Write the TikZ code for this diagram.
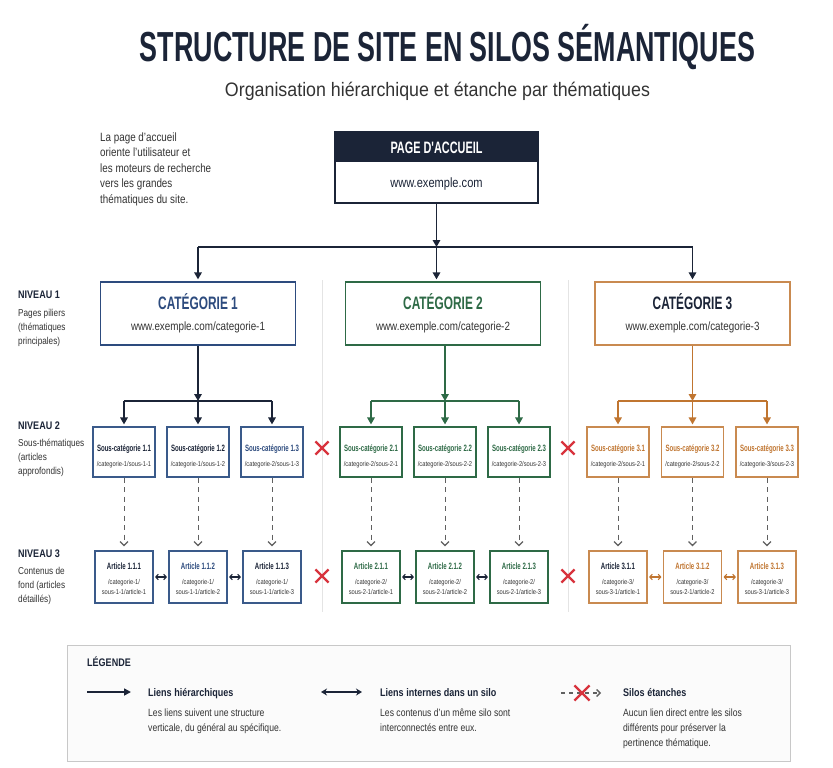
\documentclass[tikz,border=0pt]{standalone}
\usepackage{fontspec}
\usepackage{graphicx}
\setmainfont[FakeStretch=0.82]{Liberation Sans}
\newfontfamily\headf[FakeStretch=0.66]{Liberation Sans}
\usetikzlibrary{arrows.meta,shapes.misc,calc}
\definecolor{navy}{HTML}{1B2437}
\definecolor{cblue}{HTML}{2D4B7E}
\definecolor{sblue}{HTML}{3A5A8A}
\definecolor{cgreen}{HTML}{2E6A46}
\definecolor{corange}{HTML}{C98A50}
\definecolor{otext}{HTML}{C07530}
\definecolor{txt}{HTML}{333333}
\definecolor{dgray}{HTML}{606060}
\definecolor{xred}{HTML}{D8333D}
\definecolor{sepc}{HTML}{E4E4E4}
\definecolor{lgray}{HTML}{C8C8C8}
\definecolor{lfill}{HTML}{FBFBFB}
\tikzset{
 catbox/.style={draw=#1, line width=1.3pt, minimum width=195pt, minimum height=63pt, inner sep=0, fill=white},
 subbox/.style={draw=#1, line width=1.1pt, minimum width=62pt, minimum height=50pt, inner sep=0, fill=white},
 artbox/.style={draw=#1, line width=1.1pt, minimum width=58pt, minimum height=52pt, inner sep=0, fill=white},
 ttl/.style={anchor=base, inner sep=0, font=\headf\bfseries\fontsize{9.2}{10}\selectfont, text=#1},
 urltxt/.style={anchor=base, inner sep=0, font=\fontsize{7}{8}\selectfont, text=#1},
 harrow/.style={draw=#1, line width=1.6pt, -{Triangle[length=7pt,width=7.5pt]}, shorten >=2pt},
 hline/.style={draw=#1, line width=1.6pt},
 dasharrow/.style={draw=#1, line width=0.9pt, dash pattern=on 5pt off 4.5pt, -{Straight Barb[length=4pt,width=8pt,line width=1.3pt]}, shorten >=4pt},
 dblarrow/.style={draw=#1, line width=1.1pt, {Straight Barb[length=2.5pt,width=5.5pt]}-{Straight Barb[length=2.5pt,width=5.5pt]}, shorten >=1.5pt, shorten <=1.5pt},
 xmark/.style={cross out, draw=xred, line width=2.2pt, minimum size=#1, inner sep=0},
 sepline/.style={draw=#1, line width=0.8pt},
 lvl/.style={anchor=base west, inner sep=0, font=\bfseries\fontsize{11}{11}\selectfont, text=#1},
 lvltxt/.style={anchor=base west, inner sep=0, font=\fontsize{10}{10}\selectfont, text=#1},
 notetxt/.style={anchor=base west, inner sep=0, font=\fontsize{12}{12}\selectfont, text=#1},
 legtitle/.style={anchor=base west, inner sep=0, font=\bfseries\fontsize{11}{11}\selectfont, text=#1},
 legtxt/.style={anchor=base west, inner sep=0, font=\fontsize{10.5}{10.5}\selectfont, text=#1},
}
\newcommand\subbx[6]{%
 \node[subbox=#3] (#1) at (#2,452) {};
 \node[ttl=#4] (#1t) at (#2,451.5) {#5};
 \node[urltxt=txt] (#1u) at (#2,466) {#6};
}
\newcommand\artbx[7]{%
 \node[artbox=#3] (#1) at (#2,577) {};
 \node[ttl=#4] (#1t) at (#2,569.5) {#5};
 \node[urltxt=txt] (#1u) at (#2,584.5) {#6};
 \node[urltxt=txt] (#1v) at (#2,594) {#7};
}
\begin{document}
\begin{tikzpicture}[x=1pt,y=-1pt]
\useasboundingbox[fill=white] (0,0) rectangle (833,768);

% title
\node[anchor=base, inner sep=0, text=navy] (title) at (447.5,62)
  {\resizebox{615pt}{\height}{\fontsize{42}{42}\selectfont\bfseries STRUCTURE DE SITE EN SILOS SÉMANTIQUES}};
\node[anchor=base, inner sep=0, text=txt] (subtitle) at (437.5,96)
  {\resizebox{425pt}{\height}{\fontsize{19.5}{19.5}\selectfont Organisation hiérarchique et étanche par thématiques}};

% note
\node[notetxt=txt] (n1) at (100,141) {La page d'accueil};
\node[notetxt=txt] (n2) at (100,156.5) {oriente l'utilisateur et};
\node[notetxt=txt] (n3) at (100,172) {les moteurs de recherche};
\node[notetxt=txt] (n4) at (100,187.5) {vers les grandes};
\node[notetxt=txt] (n5) at (100,203) {thématiques du site.};

% home
\node[draw=navy, line width=1.2pt, minimum width=203pt, minimum height=71pt, inner sep=0, fill=white] (home) at (436.5,167.5) {};
\fill[navy] (home.north west) rectangle ($(home.north east)+(0,31)$);
\node[anchor=base, inner sep=0, text=white, font=\headf\bfseries\fontsize{16.5}{16.5}\selectfont] (homet) at (436.5,153) {PAGE D'ACCUEIL};
\node[anchor=base, inner sep=0, text=navy, font=\fontsize{13.5}{13.5}\selectfont] (homeu) at (436.5,187.5) {www.exemple.com};

% separators
\draw[sepline=sepc] (322,280) -- (322,612);
\draw[sepline=sepc] (568,280) -- (568,612);

% categories
\node[catbox=cblue] (cat1) at (198,313.5) {};
\node[catbox=cgreen] (cat2) at (443,313.5) {};
\node[catbox=corange] (cat3) at (692.5,313.5) {};
\node[anchor=base, inner sep=0, text=cblue, font=\headf\bfseries\fontsize{18}{18}\selectfont] (cat1t) at (198,309.5) {CATÉGORIE 1};
\node[anchor=base, inner sep=0, text=cgreen, font=\headf\bfseries\fontsize{18}{18}\selectfont] (cat2t) at (443,309.5) {CATÉGORIE 2};
\node[anchor=base, inner sep=0, text=navy, font=\headf\bfseries\fontsize{18}{18}\selectfont] (cat3t) at (692.5,309.5) {CATÉGORIE 3};
\node[anchor=base, inner sep=0, text=txt, font=\fontsize{12}{12}\selectfont] (cat1u) at (198,330) {www.exemple.com/categorie-1};
\node[anchor=base, inner sep=0, text=txt, font=\fontsize{12}{12}\selectfont] (cat2u) at (443,330) {www.exemple.com/categorie-2};
\node[anchor=base, inner sep=0, text=txt, font=\fontsize{12}{12}\selectfont] (cat3u) at (692.5,330) {www.exemple.com/categorie-3};

% home connectors
\coordinate (jn) at (436.5,247);
\coordinate (jl) at (198,247);
\coordinate (jr) at (692.5,247);
\draw[harrow=navy, shorten >=0pt] (home.south) -- (jn);
\draw[hline=navy] (jl) -- (jr);
\draw[harrow=navy] (jl) -- (cat1.north);
\draw[harrow=navy] (jn) -- (jn |- cat2.north);
\draw[harrow=navy] (jr) -- (cat3.north);

% level labels
\node[lvl=navy] (lv1) at (18,298) {NIVEAU 1};
\node[lvltxt=txt] (lv1a) at (18,316) {Pages piliers};
\node[lvltxt=txt] (lv1b) at (18,330) {(thématiques};
\node[lvltxt=txt] (lv1c) at (18,344) {principales)};
\node[lvl=navy] (lv2) at (18,429) {NIVEAU 2};
\node[lvltxt=txt] (lv2a) at (18,446) {Sous-thématiques};
\node[lvltxt=txt] (lv2b) at (18,460) {(articles};
\node[lvltxt=txt] (lv2c) at (18,474) {approfondis)};
\node[lvl=navy] (lv3) at (18,557) {NIVEAU 3};
\node[lvltxt=txt] (lv3a) at (18,574) {Contenus de};
\node[lvltxt=txt] (lv3b) at (18,588) {fond (articles};
\node[lvltxt=txt] (lv3c) at (18,602) {détaillés)};

% silo 1
\subbx{s11}{124}{sblue}{navy}{Sous-catégorie 1.1}{/categorie-1/sous-1-1}
\subbx{s12}{198}{sblue}{navy}{Sous-catégorie 1.2}{/categorie-1/sous-1-2}
\subbx{s13}{272}{sblue}{cblue}{Sous-catégorie 1.3}{/categorie-2/sous-1-3}
\artbx{a11}{124}{sblue}{navy}{Article 1.1.1}{/categorie-1/}{sous-1-1/article-1}
\artbx{a12}{198}{sblue}{cblue}{Article 1.1.2}{/categorie-1/}{sous-1-1/article-2}
\artbx{a13}{272}{sblue}{navy}{Article 1.1.3}{/categorie-1/}{sous-1-1/article-3}
\coordinate (j1) at (198,401);
\draw[harrow=navy, shorten >=0pt] (cat1.south) -- (j1);
\draw[hline=navy] (s11.north |- j1) -- (s13.north |- j1);
\draw[harrow=navy] (s11.north |- j1) -- (s11.north);
\draw[harrow=navy] (j1) -- (s12.north);
\draw[harrow=navy] (s13.north |- j1) -- (s13.north);

% silo 2
\subbx{s21}{371}{cgreen}{cgreen}{Sous-catégorie 2.1}{/categorie-2/sous-2-1}
\subbx{s22}{445}{cgreen}{cgreen}{Sous-catégorie 2.2}{/categorie-2/sous-2-2}
\subbx{s23}{519}{cgreen}{cgreen}{Sous-catégorie 2.3}{/categorie-2/sous-2-3}
\artbx{a21}{371}{cgreen}{cgreen}{Article 2.1.1}{/categorie-2/}{sous-2-1/article-1}
\artbx{a22}{445}{cgreen}{cgreen}{Article 2.1.2}{/categorie-2/}{sous-2-1/article-2}
\artbx{a23}{519}{cgreen}{cgreen}{Article 2.1.3}{/categorie-2/}{sous-2-1/article-3}
\coordinate (j2) at (445,401);
\draw[harrow=cgreen, shorten >=0pt] (s22.north |- cat2.south) -- (j2);
\draw[hline=cgreen] (s21.north |- j2) -- (s23.north |- j2);
\draw[harrow=cgreen] (s21.north |- j2) -- (s21.north);
\draw[harrow=cgreen] (j2) -- (s22.north);
\draw[harrow=cgreen] (s23.north |- j2) -- (s23.north);

% silo 3
\subbx{s31}{618}{corange}{otext}{Sous-catégorie 3.1}{/categorie-2/sous-2-1}
\subbx{s32}{692.5}{corange}{otext}{Sous-catégorie 3.2}{/categorie-2/sous-2-2}
\subbx{s33}{767}{corange}{otext}{Sous-catégorie 3.3}{/categorie-3/sous-2-3}
\artbx{a31}{618}{corange}{navy}{Article 3.1.1}{/categorie-3/}{sous-3-1/article-1}
\artbx{a32}{692.5}{corange}{otext}{Article 3.1.2}{/categorie-3/}{sous-2-1/article-2}
\artbx{a33}{767}{corange}{otext}{Article 3.1.3}{/categorie-3/}{sous-3-1/article-3}
\coordinate (j3) at (692.5,401);
\draw[harrow=otext, shorten >=0pt] (cat3.south) -- (j3);
\draw[hline=otext] (s31.north |- j3) -- (s33.north |- j3);
\draw[harrow=otext] (s31.north |- j3) -- (s31.north);
\draw[harrow=otext] (j3) -- (s32.north);
\draw[harrow=otext] (s33.north |- j3) -- (s33.north);

% dashed links sub -> article
\foreach \s in {11,12,13,21,22,23,31,32,33}{
  \draw[dasharrow=dgray] (s\s.south) -- (a\s.north);
}
% internal links
\draw[dblarrow=navy] (a11.east) -- (a12.west);
\draw[dblarrow=navy] (a12.east) -- (a13.west);
\draw[dblarrow=navy] (a21.east) -- (a22.west);
\draw[dblarrow=navy] (a22.east) -- (a23.west);
\draw[dblarrow=otext] (a31.east) -- (a32.west);
\draw[dblarrow=otext] (a32.east) -- (a33.west);

% crosses
\node[xmark=11pt] (x1) at (322,448) {};
\node[xmark=11pt] (x2) at (322,576) {};
\node[xmark=11pt] (x3) at (568,448) {};
\node[xmark=11pt] (x4) at (568,576) {};

% legend
\node[draw=lgray, fill=lfill, line width=1pt, minimum width=723pt, minimum height=116pt, inner sep=0] (leg) at (428.5,703) {};
\node[legtitle=navy] (legt) at (87,666) {LÉGENDE};
\coordinate (l1a) at (87,692);
\coordinate (l1b) at (131,692);
\draw[navy, line width=1.6pt, -{Triangle[length=7pt,width=7pt]}] (l1a) -- (l1b);
\node[legtitle=navy] (lt1) at (148,696) {Liens hiérarchiques};
\node[legtxt=txt] (ld1a) at (148,716) {Les liens suivent une structure};
\node[legtxt=txt] (ld1b) at (148,731) {verticale, du général au spécifique.};
\coordinate (l2a) at (321,692);
\coordinate (l2b) at (362,692);
\draw[navy, line width=1.6pt, {Stealth[length=6pt,width=7pt]}-{Stealth[length=6pt,width=7pt]}] (l2a) -- (l2b);
\node[legtitle=navy] (lt2) at (380,696) {Liens internes dans un silo};
\node[legtxt=txt] (ld2a) at (380,716) {Les contenus d'un même silo sont};
\node[legtxt=txt] (ld2b) at (380,731) {interconnectés entre eux.};
\coordinate (l3a) at (561,693);
\coordinate (l3b) at (601,693);
\draw[dgray, line width=1.3pt, dash pattern=on 4pt off 4pt, -{Straight Barb[length=3.5pt,width=7pt]}] (l3a) -- (l3b);
\node[xmark=13pt] (lx) at (582,693) {};
\node[legtitle=navy] (lt3) at (623,696) {Silos étanches};
\node[legtxt=txt] (ld3a) at (623,716) {Aucun lien direct entre les silos};
\node[legtxt=txt] (ld3b) at (623,731) {différents pour préserver la};
\node[legtxt=txt] (ld3c) at (623,746) {pertinence thématique.};
\end{tikzpicture}
\end{document}
